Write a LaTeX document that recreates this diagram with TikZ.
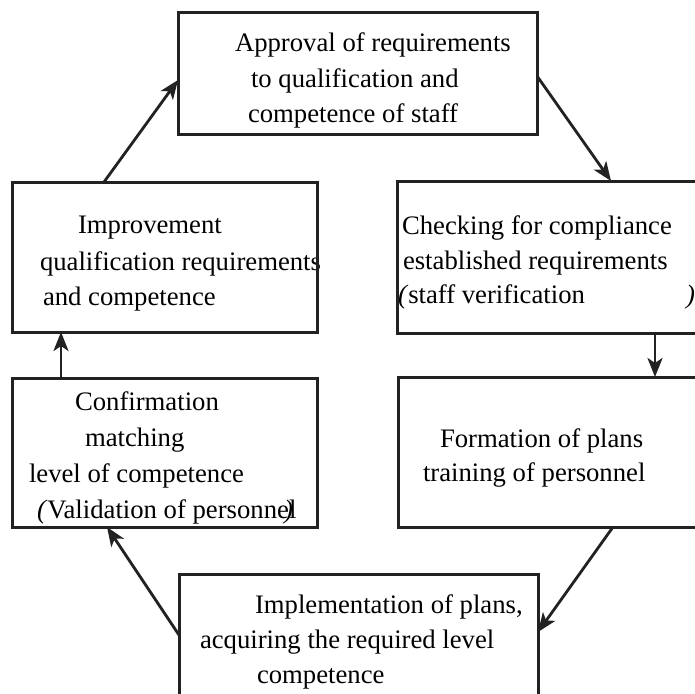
\documentclass[tikz,border=0pt]{standalone}
\usepackage{fontspec}
\setmainfont{Liberation Serif}
\usetikzlibrary{arrows.meta}
\definecolor{ink}{HTML}{222222}
\tikzset{
  boxnode/.style={draw=ink, line width=3pt, rectangle, inner sep=0pt, outer sep=0pt, anchor=north west},
  txt/.style={anchor=base west, inner sep=0pt, outer sep=0pt, text=black, font=\fontsize{26.7}{32}\selectfont},
  conn/.style={draw=ink, line width=2.8pt, -{Stealth[length=19pt, width=15pt, inset=5pt]}}
}
\begin{document}
\begin{tikzpicture}[x=1pt, y=-1pt]
\useasboundingbox (0,0) rectangle (695,693);
\clip (0,0) rectangle (695,693);
\fill[white] (0,0) rectangle (695,693);
% texts
\node[txt] (ta) at (235,52) {Approval of requirements};
\node[txt] (tb) at (251,87) {to qualification and};
\node[txt] (tc) at (248,122) {competence of staff};
\node[txt] (ca) at (402,234) {Checking for compliance};
\node[txt] (cb) at (403,269) {established requirements};
\node[txt] (cc) at (398,303) {\textit{(}staff verification};
\node[txt] (cd) at (686,303) {\textit{)}};
\node[txt] (ia) at (78,233) {Improvement};
\node[txt] (ib) at (40,270) {qualification requirements};
\node[txt] (ic) at (43,305) {and competence};
\node[txt] (fa) at (440,447) {Formation of plans};
\node[txt] (fb) at (423,481) {training of personnel};
\node[txt] (va) at (75,410) {Confirmation};
\node[txt] (vb) at (85,446) {matching};
\node[txt] (vc) at (29,482) {level of competence};
\node[txt] (vd) at (37,518) {\textit{(}Validation of personnel};
\node[txt] (ve) at (284,518) {\textit{)}};
\node[txt] (ma) at (255,613) {Implementation of plans,};
\node[txt] (mb) at (200,648) {acquiring the required level};
\node[txt] (mc) at (257,683) {competence};
% boxes
\node[boxnode, minimum width=359pt, minimum height=121pt] (top) at (178,13) {};
\node[boxnode, minimum width=330pt, minimum height=152pt] (check) at (397,181) {};
\node[boxnode, minimum width=305pt, minimum height=150pt] (impr) at (12,182) {};
\node[boxnode, minimum width=330pt, minimum height=150pt] (form) at (398,377) {};
\node[boxnode, minimum width=305pt, minimum height=149pt] (conf) at (12,378) {};
\node[boxnode, minimum width=359pt, minimum height=170pt] (impl) at (179,574) {};
% connectors
\draw[conn] ([yshift=-63pt]top.north east) -- ([xshift=214pt]check.north west);
\draw[conn] ([xshift=258pt]check.south west) -- ([xshift=257pt]form.north west);
\draw[conn] ([xshift=215pt]form.south west) -- ([yshift=-58pt]impl.north east);
\draw[conn] ([yshift=-61pt]impl.north west) -- ([xshift=95pt]conf.south west);
\draw[conn] ([xshift=49pt]conf.north west) -- ([xshift=49pt]impr.south west);
\draw[conn] ([xshift=92pt]impr.north west) -- ([yshift=-67pt]top.north west);
\end{tikzpicture}
\end{document}
